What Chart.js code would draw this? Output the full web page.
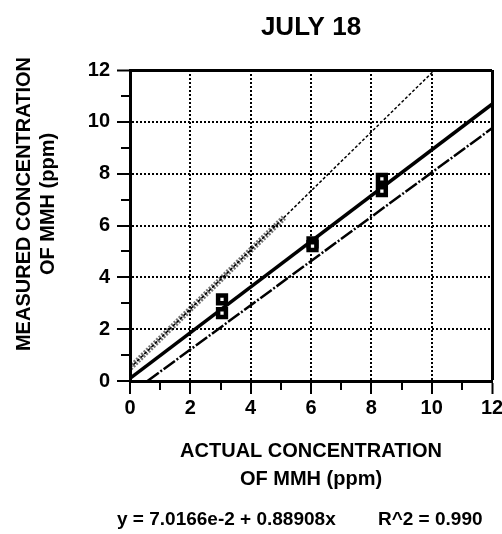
<!DOCTYPE html>
<html>
<head>
<meta charset="utf-8">
<script src="https://cdn.jsdelivr.net/npm/chart.js@4.4.1/dist/chart.umd.min.js"></script>
<style>
  html, body { margin: 0; padding: 0; background: #fff; }
  #wrap { width: 502px; height: 534px; }
</style>
</head>
<body>
<div id="wrap"><canvas id="chart" width="502" height="534"></canvas></div>
<script>
// ---- chart data ----
const actualConc   = [3.05, 3.05, 6.05, 6.05, 8.35, 8.35];
const measuredConc = [3.15, 2.62, 5.35, 5.2, 7.8, 7.33];

// regression line y = 7.0166e-2 + 0.88908x
const fitLineX = [0, 12];
const fitLineY = [0.1, 10.68];

// thin dotted line and its heavy lower part
const dottedX = [0, 10.1];
const dottedY = [0.5, 12];
const bandX = [0, 5.1];
const bandY = [0.5, 6.3];

// dash-dot line
const lowerX = [0.58, 12];
const lowerY = [0, 9.75];

const tickValues = [0, 2, 4, 6, 8, 10, 12];
const tickLabels = ["0", "2", "4", "6", "8", "10", "12"];

const chartTitle = "JULY 18";
const xTitle = ["ACTUAL CONCENTRATION", "OF MMH (ppm)"];
const yTitle = ["MEASURED CONCENTRATION", "OF MMH (ppm)"];
const equation = "y = 7.0166e-2 + 0.88908x        R^2 = 0.990";

const FONT = "'Liberation Sans', Arial, Helvetica, sans-serif";
Chart.defaults.font.family = FONT;
Chart.defaults.color = "#000";

function toPoints(xs, ys) {
  return xs.map((x, i) => ({ x: x, y: ys[i] }));
}

function tickLabel(value) {
  const i = tickValues.indexOf(value);
  return i >= 0 ? tickLabels[i] : "";
}

const isMajor = (ctx) => ctx.tick && ctx.tick.value % 2 === 0;
const isEnd = (ctx) => ctx.tick && ctx.tick.value === 12;

// y axis title (a bit above the plot centre, like the original) and the
// regression equation under the x axis title
const extraText = {
  id: "extraText",
  afterDraw(chart) {
    const ctx = chart.ctx;
    ctx.save();
    ctx.fillStyle = "#000";
    ctx.textBaseline = "middle";

    ctx.font = "bold 19px " + FONT;
    ctx.textAlign = "left";
    ctx.fillText(equation, 117, 520);

    ctx.font = "bold 20px " + FONT;
    ctx.translate(24, 204);
    ctx.rotate(-Math.PI / 2);
    ctx.textAlign = "center";
    yTitle.forEach((line, i) => ctx.fillText(line, 0, i * 24));
    ctx.restore();
  },
};

function axisOptions(isX) {
  return {
    type: "linear",
    min: 0,
    max: 12,
    ticks: {
      stepSize: 1,
      autoSkip: false,
      maxRotation: 0,
      padding: isX ? 2 : 7,
      color: "#000",
      font: { size: 20, weight: "bold" },
      callback: (v) => tickLabel(v),
    },
    grid: {
      color: (ctx) => (isMajor(ctx) ? "#000" : "rgba(0,0,0,0)"),
      lineWidth: (ctx) => (isEnd(ctx) ? 3 : 2),
      tickLength: 13,
      tickColor: "#000",
      tickWidth: 2,
      tickBorderDash: (ctx) => (isMajor(ctx) ? [] : isX ? [7, 40] : [0, 4, 8, 40]),
    },
    border: {
      color: "#000",
      width: 3,
      dash: (ctx) => (isEnd(ctx) ? [] : [2, 2]),
    },
    afterFit: (scale) => {
      if (isX) {
        scale.height = 112;
        scale.paddingLeft = 0;
        scale.paddingRight = 0;
      } else {
        scale.width = 130;
      }
    },
  };
}

const xAxis = axisOptions(true);
xAxis.title = {
  display: true,
  text: xTitle,
  color: "#000",
  font: { size: 20, weight: "bold", lineHeight: 1.4 },
  padding: { top: 0, bottom: 0 },
};
const yAxis = axisOptions(false);

new Chart(document.getElementById("chart"), {
  type: "scatter",
  data: {
    datasets: [
      {
        label: "data",
        data: toPoints(actualConc, measuredConc),
        pointStyle: "rect",
        pointRadius: 5.5,
        borderWidth: 4.5,
        borderColor: "#000",
        backgroundColor: "#fff",
        showLine: false,
      },
      {
        label: "fit",
        data: toPoints(fitLineX, fitLineY),
        showLine: true,
        borderColor: "#000",
        borderWidth: 3.5,
        pointRadius: 0,
      },
      {
        label: "lower",
        data: toPoints(lowerX, lowerY),
        showLine: true,
        borderColor: "#000",
        borderWidth: 2.5,
        borderDash: [14, 2, 2, 2],
        pointRadius: 0,
      },
      {
        label: "dotted",
        data: toPoints(dottedX, dottedY),
        showLine: true,
        borderColor: "#000",
        borderWidth: 1.5,
        borderDash: [3, 2],
        pointRadius: 0,
      },
      {
        label: "band",
        data: toPoints(bandX, bandY),
        showLine: true,
        borderColor: "rgba(0,0,0,0.55)",
        borderWidth: 6,
        borderDash: [2, 1.5],
        pointRadius: 0,
      },
    ],
  },
  options: {
    responsive: false,
    animation: false,
    devicePixelRatio: 1,
    layout: { padding: { left: 0, right: 9, top: 0, bottom: 41 } },
    plugins: {
      legend: { display: false },
      tooltip: { enabled: false },
      title: {
        display: true,
        text: chartTitle,
        fullSize: false,
        color: "#000",
        font: { size: 26, weight: "bold", lineHeight: 1.2 },
        padding: { top: 12.4, bottom: 26.4 },
      },
    },
    scales: { x: xAxis, y: yAxis },
  },
  plugins: [extraText],
});
</script>
</body>
</html>
